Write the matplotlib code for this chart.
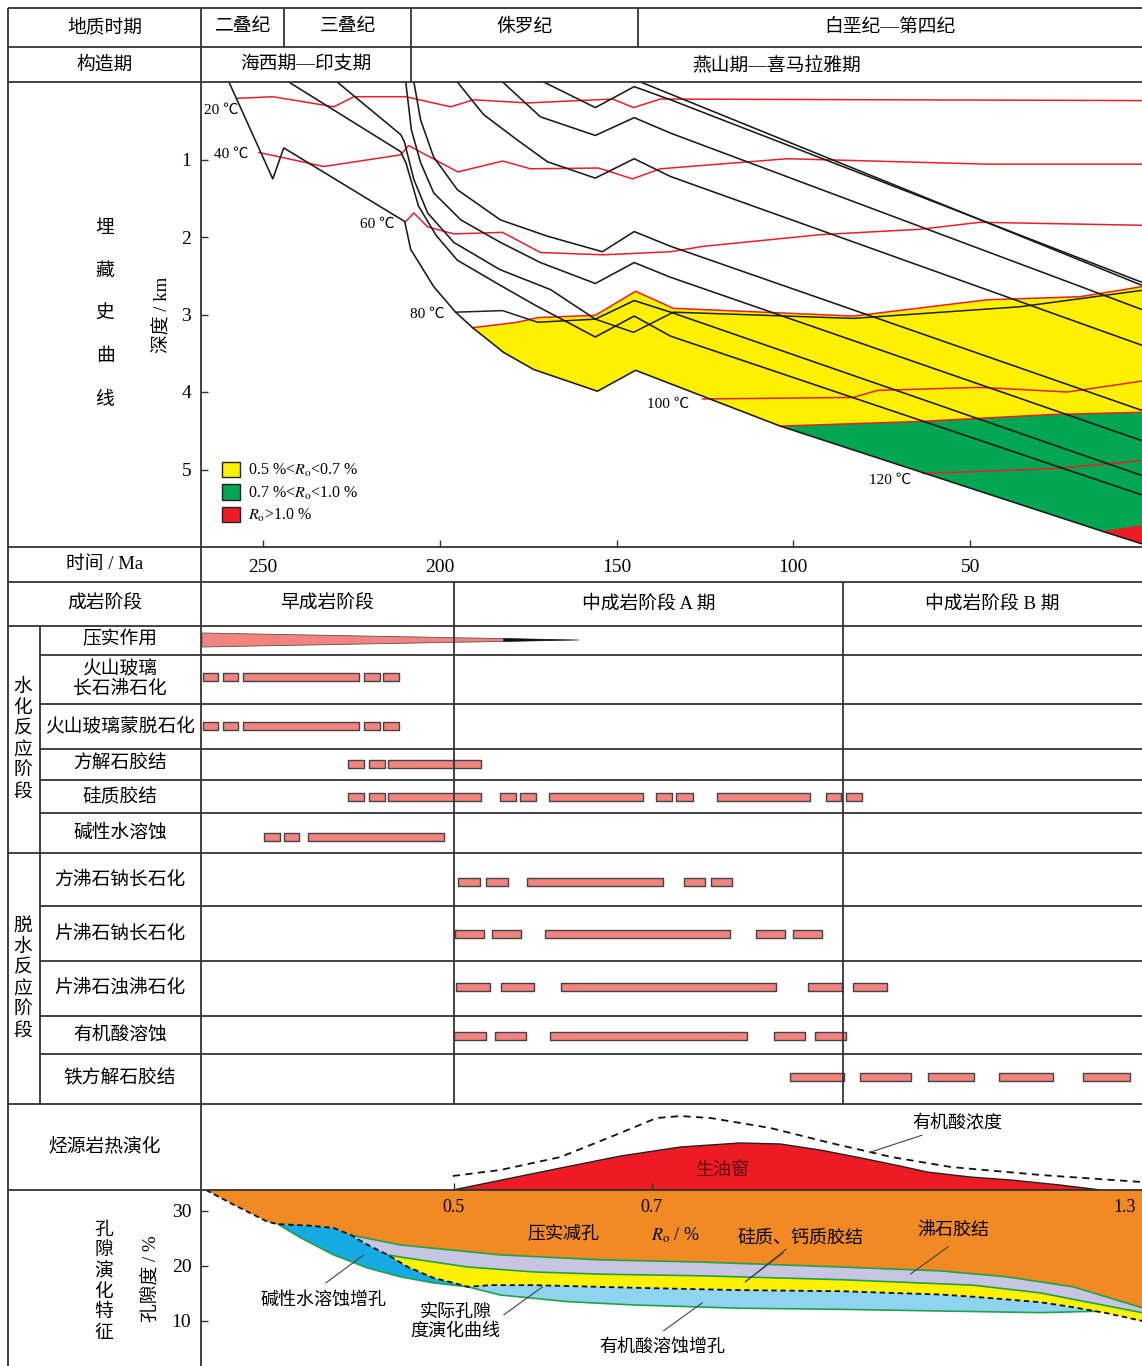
"""
成岩演化综合图：埋藏史、成岩阶段、烃源岩热演化与孔隙演化
"""

import numpy as np
import matplotlib
matplotlib.use("Agg")
from matplotlib import pyplot as plt, rcParams as rcP
from matplotlib.patches import Patch

rcP["font.family"] = ["Liberation Serif", "Noto Sans CJK SC"]
rcP["mathtext.fontset"] = "stix"
rcP["font.size"] = 13.5
rcP["axes.unicode_minus"] = False

# ---------------- 数据 ----------------
time_ticks = [250, 200, 150, 100, 50]
depth_ticks = [1, 2, 3, 4, 5]
porosity_ticks = [10, 20, 30]

period_names = ["二叠纪", "三叠纪", "侏罗纪", "白垩纪—第四纪"]
period_edges = [267.5, 244, 208, 144, 1.4]
tectonic_names = ["海西期—印支期", "燕山期—喜马拉雅期"]
tectonic_edges = [267.5, 208, 1.4]
stage_names = ["早成岩阶段", "中成岩阶段 A 期", "中成岩阶段 B 期"]
stage_edges = [267.5, 196, 86, 1.4]

# 埋藏史曲线（年龄 Ma，深度 km）
bur1_age = [259.6, 247.2, 244.1, 209.9, 208.2, 201.7, 195.5, 190.7, 181.9, 173.4, 155.4, 144.6, 103.7, 12.4, 0]
bur1_dep = [0, 1.25, 0.85, 1.80, 2.16, 2.64, 2.97, 3.17, 3.49, 3.71, 3.99, 3.72, 4.44, 5.80, 5.98]
bur2_age = [242.7, 211, 209.5, 206, 201, 195, 183, 173, 156, 145, 134.7, 0]
bur2_dep = [0, 0.9, 1.05, 1.6, 1.98, 2.3, 2.62, 2.88, 3.29, 3.02, 3.28, 5.35]
bur3_age = [229, 211, 210, 207.3, 203.4, 196, 183, 168.6, 156, 145, 134.7, 0]
bur3_dep = [0, 0.68, 0.77, 1.26, 1.69, 2.07, 2.42, 2.68, 3.06, 2.82, 2.97, 5.10]
bur4_age = [209.6, 208, 205.4, 201.7, 194, 182.8, 171.5, 156, 145, 134.7, 0]
bur4_dep = [0, 0.62, 1.04, 1.43, 1.78, 2.07, 2.33, 2.6, 2.33, 2.52, 4.65]
bur5_age = [207.3, 205.4, 201.7, 195, 182.8, 169.5, 154, 145, 134.7, 0]
bur5_dep = [0, 0.49, 0.97, 1.39, 1.78, 1.99, 2.19, 1.93, 2.12, 4.26]
bur6_age = [195, 187.6, 178, 169.5, 156, 145, 134.7, 0]
bur6_dep = [0, 0.42, 0.75, 1.03, 1.24, 0.99, 1.22, 3.42]
bur7_age = [182.2, 171.5, 156, 145, 134.7, 0]
bur7_dep = [0, 0.45, 0.69, 0.46, 0.66, 2.96]
bur8_age = [170.6, 156, 145, 134.7, 0]
bur8_dep = [0, 0.33, 0.06, 0.23, 2.61]
bur9_age = [143.2, 0]
bur9_dep = [0, 2.65]

# 等温线
iso20_age = [257.1, 247.2, 229.9, 224.3, 209.6, 196.9, 190.4, 175.1, 151.1, 145.2, 137.6, 0]
iso20_dep = [0.21, 0.19, 0.32, 0.19, 0.19, 0.32, 0.23, 0.27, 0.22, 0.33, 0.22, 0.24]
iso40_age = [251.1, 244.9, 232.8, 211, 208.8, 194.9, 182.2, 174.3, 155.1, 145.5, 137.6, 101.7, 45.2, 0]
iso40_dep = [0.91, 0.97, 1.09, 0.94, 0.82, 1.16, 1.02, 1.12, 1.11, 1.25, 1.12, 0.99, 1.06, 1.06]
iso60_age = [209.6, 207.3, 203.4, 196, 182.2, 171.5, 153.7, 134.7, 125.4, 92.4, 64.1, 47.2, 0]
iso60_dep = [1.80, 1.69, 1.87, 1.96, 1.94, 2.20, 2.23, 2.19, 2.12, 1.97, 1.90, 1.81, 1.85]
iso80_age = [195.5, 182.2, 172.3, 156, 145.2, 133.9, 83, 35.9, 0]
iso80_dep = [2.97, 2.95, 3.10, 3.06, 3.23, 2.97, 3.05, 2.90, 2.68]
iso100_age = [125.7, 83, 76.3, 47.2, 22.6, 0]
iso100_dep = [4.09, 4.07, 3.98, 3.94, 4.0, 3.85]
iso120_age = [63.3, 26.6, 0]
iso120_dep = [5.05, 4.99, 4.88]

# 镜质体反射率界线
ro05_age = [190.7, 178, 172.3, 156, 144.6, 133.9, 83, 45.2, 18.9, 0]
ro05_dep = [3.17, 3.10, 3.04, 3.01, 2.70, 2.92, 3.02, 2.81, 2.77, 2.63]
ro07_age = [103.7, 64.1, 26.6, 0]
ro07_dep = [4.44, 4.38, 4.29, 4.26]
ro10_age = [12.4, 0]
ro10_dep = [5.80, 5.72]

# 成岩作用时段（起止年龄 Ma）
compaction_span = (267.2, 160.7)
seg_glass_zeolite = [(267.0, 262.6), (261.3, 257.0), (255.7, 222.7), (221.3, 217.0), (215.9, 211.6)]
seg_glass_smectite = [(267.0, 262.6), (261.3, 257.0), (255.7, 222.7), (221.3, 217.0), (215.9, 211.6)]
seg_calcite = [(225.8, 221.3), (220.0, 215.6), (214.5, 188.2)]
seg_silica = [(225.8, 221.3), (220.0, 215.6), (214.5, 188.2), (182.9, 178.5), (177.2, 172.8),
              (169.0, 142.6), (138.8, 134.2), (133.1, 128.5), (121.6, 95.3), (90.8, 86.4), (85.2, 80.6)]
seg_alkaline = [(249.7, 245.3), (244.0, 239.7), (237.3, 198.8)]
seg_analcime = [(194.7, 188.7), (186.8, 180.8), (175.4, 136.8), (130.9, 125.0), (123.2, 117.3)]
seg_heul_albite = [(195.7, 187.6), (185.2, 176.9), (170.3, 117.9), (110.6, 102.3), (100.1, 91.9)]
seg_heul_laum = [(195.3, 185.7), (182.8, 173.2), (165.6, 105.0), (95.8, 86.2), (83.2, 73.6)]
seg_organic = [(195.9, 187.0), (184.3, 175.5), (168.7, 113.1), (105.4, 96.7), (94.0, 85.1)]
seg_ferrocalcite = [(100.8, 85.8), (81.2, 66.8), (61.8, 49.0), (41.7, 26.7), (18.1, 4.9)]

hyd_labels = ["压实作用", "火山玻璃\n长石沸石化", "火山玻璃蒙脱石化", "方解石胶结", "硅质胶结", "碱性水溶蚀"]
deh_labels = ["方沸石钠长石化", "片沸石钠长石化", "片沸石浊沸石化", "有机酸溶蚀", "铁方解石胶结"]

# 烃源岩热演化（相对强度）
oil_age = [196.3, 165.8, 148.9, 131.9, 115.0, 103.7, 92.4, 80.8, 69.8, 62.1, 50.0, 38.4, 24.6, 13.0]
oil_val = [0, 0.256, 0.395, 0.50, 0.547, 0.535, 0.465, 0.372, 0.279, 0.209, 0.151, 0.116, 0.058, 0]
acid_age = [196.3, 182.8, 165.8, 148.9, 138.7, 131.9, 123.4, 106.5, 89.5, 72.3, 55.4, 29.9, 1.4]
acid_val = [0.163, 0.233, 0.384, 0.663, 0.837, 0.86, 0.837, 0.721, 0.547, 0.384, 0.267, 0.174, 0.093]
ro_labels = ["0.5", "0.7", "1.3"]
ro_ages = [196, 140, 6.2]

# 孔隙演化（年龄 Ma，孔隙度 %）
actual_age = [266.1, 258.2, 248.6, 245.8, 236.4, 230.0, 225.1, 220.3, 214.7, 209.0, 201.7, 196.0, 192.1,
              185.6, 173.4, 143.2, 115.0, 86.7, 58.5, 49.2, 39.5, 30.2, 20.9, 14.5, 11.3, 1.4, 0]
actual_por = [33.8, 31.1, 28.0, 27.6, 27.3, 26.9, 25.6, 23.8, 22.0, 19.8, 17.8, 16.9, 16.2,
              16.5, 16.5, 16.0, 15.6, 15.4, 14.8, 14.4, 13.9, 13.4, 12.5, 11.75, 11.4, 10.0, 9.8]
zeolite_age = [225.1, 211.0, 182.8, 154.5, 126.3, 86.7, 58.5, 39.5, 20.9, 1.4, 0]
zeolite_por = [25.6, 23.8, 22.0, 21.1, 20.7, 19.8, 19.1, 18.0, 16.2, 12.4, 12.2]
silica_age = [214.7, 211.0, 192.1, 173.4, 154.5, 126.3, 86.7, 49.2, 30.2, 1.4, 0]
silica_por = [22.0, 21.6, 19.8, 18.9, 18.5, 18.2, 17.5, 16.5, 15.1, 11.5, 11.3]
dissol_age = [245.8, 239.3, 230.0, 220.3, 211.0, 201.7, 192.1, 182.8, 163.8, 145.2, 115.0, 86.7,
              58.5, 39.5, 30.2, 14.5]
dissol_por = [27.6, 25.1, 22.0, 19.6, 18.0, 16.9, 16.2, 14.7, 13.5, 12.9, 12.3, 12.1,
              11.8, 11.6, 11.5, 11.75]

# ---------------- 布局 ----------------
W, H = 1142, 1366
XL = (267.5, 1.4)
LC = "#333333"
BAR = "#F2837F"


def box(x0, y0, x1, y1):
    """像素框 -> 图坐标"""
    return [x0 / W, 1 - y1 / H, (x1 - x0) / W, (y1 - y0) / H]


def band(top_a, top_v, bot_a, bot_v, lo, hi):
    """两条曲线之间的多边形（年龄从大到小排列）"""
    ta, tv = np.asarray(top_a), np.asarray(top_v)
    ba, bv = np.asarray(bot_a), np.asarray(bot_v)
    mt = (ta >= lo) & (ta <= hi)
    mb = (ba >= lo) & (ba <= hi)
    return np.r_[ta[mt], ba[mb][::-1]], np.r_[tv[mt], bv[mb][::-1]]


fig = plt.figure(figsize=(W / 100, H / 100), dpi=100)

# 时间轴上的表格部分
tx = fig.add_axes([201 / W, 0, 941 / W, 1], zorder=5)
tx.set_xlim(*XL)
tx.set_ylim(H, 0)
tx.axis("off")

# ---- 埋藏史 ----
ab = fig.add_axes(box(201, 82, 1142, 547), zorder=1)
ab.set_xlim(*XL)
ab.set_ylim(6, 0)

x, y = band(ro05_age, ro05_dep, bur1_age, bur1_dep, 0, 190.7)
ab.fill(x, y, color="#FFF000", lw=0, zorder=1)
x, y = band(ro07_age, ro07_dep, bur1_age, bur1_dep, 0, 103.7)
ab.fill(x, y, color="#00A651", lw=0, zorder=1)
x, y = band(ro10_age, ro10_dep, bur1_age, bur1_dep, 0, 12.4)
ab.fill(x, y, color="#ED1C24", lw=0, zorder=1)

for a, d in [(ro05_age, ro05_dep), (ro07_age, ro07_dep), (ro10_age, ro10_dep),
             (iso20_age, iso20_dep), (iso40_age, iso40_dep), (iso60_age, iso60_dep),
             (iso100_age, iso100_dep), (iso120_age, iso120_dep)]:
    ab.plot(a, d, color="#E8202A", lw=1.1, zorder=2)
ab.plot(iso80_age, iso80_dep, color="#222222", lw=1.1, zorder=3)

for a, d in [(bur1_age, bur1_dep), (bur2_age, bur2_dep), (bur3_age, bur3_dep),
             (bur4_age, bur4_dep), (bur5_age, bur5_dep), (bur6_age, bur6_dep),
             (bur7_age, bur7_dep), (bur8_age, bur8_dep), (bur9_age, bur9_dep)]:
    ab.plot(a, d, color="#1a1a1a", lw=1.15, zorder=3)

for txt, (a, d) in zip(["20 ℃", "40 ℃", "60 ℃", "80 ℃", "100 ℃", "120 ℃"],
                       [(261.9, 0.36), (259.0, 0.94), (217.8, 1.84), (203.4, 3.0), (135.3, 4.16), (72.6, 5.14)]):
    ab.text(a, d, txt, fontsize=11, ha="center", va="center", zorder=4)

ab.set_xticks(time_ticks)
ab.set_yticks(depth_ticks)
ab.tick_params(direction="in", length=5, width=1, color=LC, labelsize=14)
ab.tick_params(axis="x", pad=9)
ab.tick_params(axis="y", pad=7)
for s in ab.spines.values():
    s.set_visible(False)

leg_handles = [Patch(facecolor="#FFF000", edgecolor="#222222", label=r"0.5 %<$R_\mathrm{o}$<0.7 %"),
               Patch(facecolor="#00A651", edgecolor="#222222", label=r"0.7 %<$R_\mathrm{o}$<1.0 %"),
               Patch(facecolor="#ED1C24", edgecolor="#222222", label=r"$R_\mathrm{o}$>1.0 %")]
ab.legend(handles=leg_handles, loc="lower left", bbox_to_anchor=(0.016, 0.035), frameon=False,
          fontsize=11.5, handlelength=1.1, handleheight=1.1, handletextpad=0.5,
          labelspacing=0.35, borderaxespad=0)

# ---- 表头与成岩阶段 ----
for i, name in enumerate(period_names):
    tx.text((period_edges[i] + period_edges[i + 1]) / 2, 27, name, ha="center", va="center")
for i, name in enumerate(tectonic_names):
    tx.text((tectonic_edges[i] + tectonic_edges[i + 1]) / 2, 65, name, ha="center", va="center")
for i, name in enumerate(stage_names):
    tx.text((stage_edges[i] + stage_edges[i + 1]) / 2, 604, name, ha="center", va="center")

tx.vlines([period_edges[1], period_edges[3]], 8, 47, color=LC, lw=1.3)
tx.vlines(tectonic_edges[1], 8, 82, color=LC, lw=1.3)
tx.vlines(stage_edges[1:3], 582, 1104, color=LC, lw=1.3)

# 压实作用楔形
c0, c1 = compaction_span
tx.fill([c0, c1, c0], [633, 640, 647], color=BAR, ec="#555555", lw=0.6)
tx.fill([182, c1, 182], [638.3, 640, 641.7], color="#111111", lw=0)

row_segments = [seg_glass_zeolite, seg_glass_smectite, seg_calcite, seg_silica, seg_alkaline,
                seg_analcime, seg_heul_albite, seg_heul_laum, seg_organic, seg_ferrocalcite]
row_centers = [676.5, 726, 764, 797, 836.5, 881.5, 934, 986.5, 1036, 1077]
for segs, yc in zip(row_segments, row_centers):
    tx.broken_barh([(min(a, b), abs(a - b)) for a, b in segs], (yc - 4, 8),
                   facecolors=BAR, edgecolors="#444444", lw=1.0)

# ---- 烃源岩热演化 ----
ah = fig.add_axes(box(201, 1104, 1142, 1190), zorder=2)
ah.set_xlim(*XL)
ah.set_ylim(0, 1)
ah.fill(oil_age, oil_val, color="#ED1C24", ec="#222222", lw=1.0)
ah.plot(acid_age, acid_val, color="#111111", lw=1.3, ls=(0, (4, 3)))
ah.text(120.1, 0.23, "生油窗", ha="center", va="center", fontsize=13, color="#5a0a0a")
ah.annotate("有机酸浓度", xy=(78.2, 0.44), xytext=(66.5, 0.77), ha="left", va="center",
            fontsize=13, arrowprops=dict(arrowstyle="-", color="#444444", lw=0.8,
                                         shrinkA=0, shrinkB=0))
ah.set_xticks(ro_ages[:2])
ah.tick_params(axis="x", direction="in", length=5, width=1, color=LC, labelbottom=False)
ah.set_yticks([])
for s in ah.spines.values():
    s.set_visible(False)

# ---- 孔隙演化 ----
ap = fig.add_axes(box(201, 1190, 1142, 1366), zorder=1)
ap.set_xlim(*XL)
ap.set_ylim(1.8, 33.8)

aa, ap_ = np.asarray(actual_age), np.asarray(actual_por)
za, zp = np.asarray(zeolite_age), np.asarray(zeolite_por)
sa, sp = np.asarray(silica_age), np.asarray(silica_por)

# 压实减孔
low_a = np.r_[aa[aa >= 225.1], za[za < 225.1]]
low_p = np.r_[ap_[aa >= 225.1], zp[za < 225.1]]
ap.fill(np.r_[low_a, 0, 266.1], np.r_[low_p, 40, 40], color="#F18A22", lw=0)
# 沸石胶结
m = (aa <= 225.1) & (aa > 214.7)
bot_a = np.r_[aa[m], sa]
bot_p = np.r_[ap_[m], sp]
ap.fill(np.r_[za, bot_a[::-1]], np.r_[zp, bot_p[::-1]], color="#C7C5E2", lw=0)
# 硅质、钙质胶结
x, y = band(silica_age, silica_por, actual_age, actual_por, 0, 214.7)
ap.fill(x, y, color="#FFF200", lw=0)
# 碱性水溶蚀增孔
x, y = band(actual_age, actual_por, dissol_age, dissol_por, 192.1, 245.8)
ap.fill(x, y, color="#17A9E1", lw=0)
# 有机酸溶蚀增孔
x, y = band(actual_age, actual_por, dissol_age, dissol_por, 14.5, 192.1)
ap.fill(x, y, color="#8ED3F0", lw=0)

for a, p in [(zeolite_age, zeolite_por), (silica_age, silica_por), (dissol_age, dissol_por)]:
    ap.plot(a, p, color="#22A04A", lw=1.2)
ap.plot(actual_age, actual_por, color="#111111", lw=1.3, ls=(0, (3, 2)))

for lab, a in zip(ro_labels, ro_ages):
    ap.text(a, 30.7, lab, ha="center", va="center", fontsize=13)
ap.text(133.3, 25.6, r"$R_\mathrm{o}$ / %", ha="center", va="center", fontsize=13)
ap.text(165.0, 25.6, "压实减孔", ha="center", va="center", fontsize=13)

lead = dict(arrowstyle="-", color="#444444", lw=0.8, shrinkA=0, shrinkB=0)
ap.annotate("硅质、钙质胶结", xy=(113.6, 17.1), xytext=(98.0, 25.1), ha="center", va="center",
            fontsize=13, arrowprops=lead)
ap.annotate("", xy=(113.6, 17.1), xytext=(102.8, 22.4), arrowprops=lead)
ap.annotate("沸石胶结", xy=(66.9, 18.5), xytext=(54.8, 26.5), ha="center", va="center",
            fontsize=13)
ap.annotate("", xy=(66.9, 18.5), xytext=(56.2, 23.5), arrowprops=lead)
ap.annotate("有机酸溶蚀增孔", xy=(125.7, 13.3), xytext=(137.0, 5.3), ha="center", va="center",
            fontsize=13)
ap.annotate("", xy=(125.7, 13.3), xytext=(136.7, 8.2), arrowprops=lead)
ap.annotate("碱性水溶蚀增孔", xy=(221.5, 22.0), xytext=(232.8, 13.8), ha="center", va="center",
            fontsize=13)
ap.annotate("", xy=(221.5, 22.0), xytext=(232.2, 16.9), arrowprops=lead)
ap.text(195.5, 9.8, "实际孔隙\n度演化曲线", ha="center", va="center", fontsize=13, linespacing=1.15)
ap.annotate("", xy=(170.9, 16.2), xytext=(181.9, 11.1), arrowprops=lead)

ap.set_yticks(porosity_ticks)
ap.set_xticks([])
ap.tick_params(axis="y", direction="in", length=5, width=1, color=LC, labelsize=14, pad=7)
for s in ap.spines.values():
    s.set_visible(False)

# ---- 表格线与左侧文字 ----
fr = fig.add_axes([0, 0, 1, 1], zorder=10)
fr.set_xlim(0, W)
fr.set_ylim(H, 0)
fr.axis("off")

fr.hlines([8, 47, 82, 547, 582, 626, 853, 1104, 1190], 8, W, color=LC, lw=1.3)
fr.hlines([655, 704, 749, 780, 813, 906, 961, 1016, 1054], 40, W, color=LC, lw=1.3)
fr.vlines([8, 201], 8, H, color=LC, lw=1.3)
fr.vlines(40, 626, 1104, color=LC, lw=1.3)

for txt, yy in [("地质时期", 27), ("构造期", 65), ("时间 / Ma", 565), ("成岩阶段", 604),
                ("烃源岩热演化", 1147)]:
    fr.text(105, yy, txt, ha="center", va="center")

for i, ch in enumerate("埋藏史曲线"):
    fr.text(105, 228 + 43 * i, ch, ha="center", va="center")
for i, ch in enumerate("水化反应阶段"):
    fr.text(23, 687 + 21.2 * i, ch, ha="center", va="center")
for i, ch in enumerate("脱水反应阶段"):
    fr.text(23, 926 + 21.2 * i, ch, ha="center", va="center")
for i, ch in enumerate("孔隙演化特征"):
    fr.text(104, 1230 + 20.7 * i, ch, ha="center", va="center")

fr.text(163, 315, "深度 / km", ha="center", va="center", rotation=90)
fr.text(152, 1279, "孔隙度 / %", ha="center", va="center", rotation=90)

hyd_y = [640, 679, 726, 764, 797, 833]
for txt, yy in zip(hyd_labels, hyd_y):
    fr.text(120, yy, txt, ha="center", va="center", linespacing=1.12)
deh_y = [880, 934, 988, 1035, 1079]
for txt, yy in zip(deh_labels, deh_y):
    fr.text(120, yy, txt, ha="center", va="center")

fig.savefig("out.png", dpi=100)
